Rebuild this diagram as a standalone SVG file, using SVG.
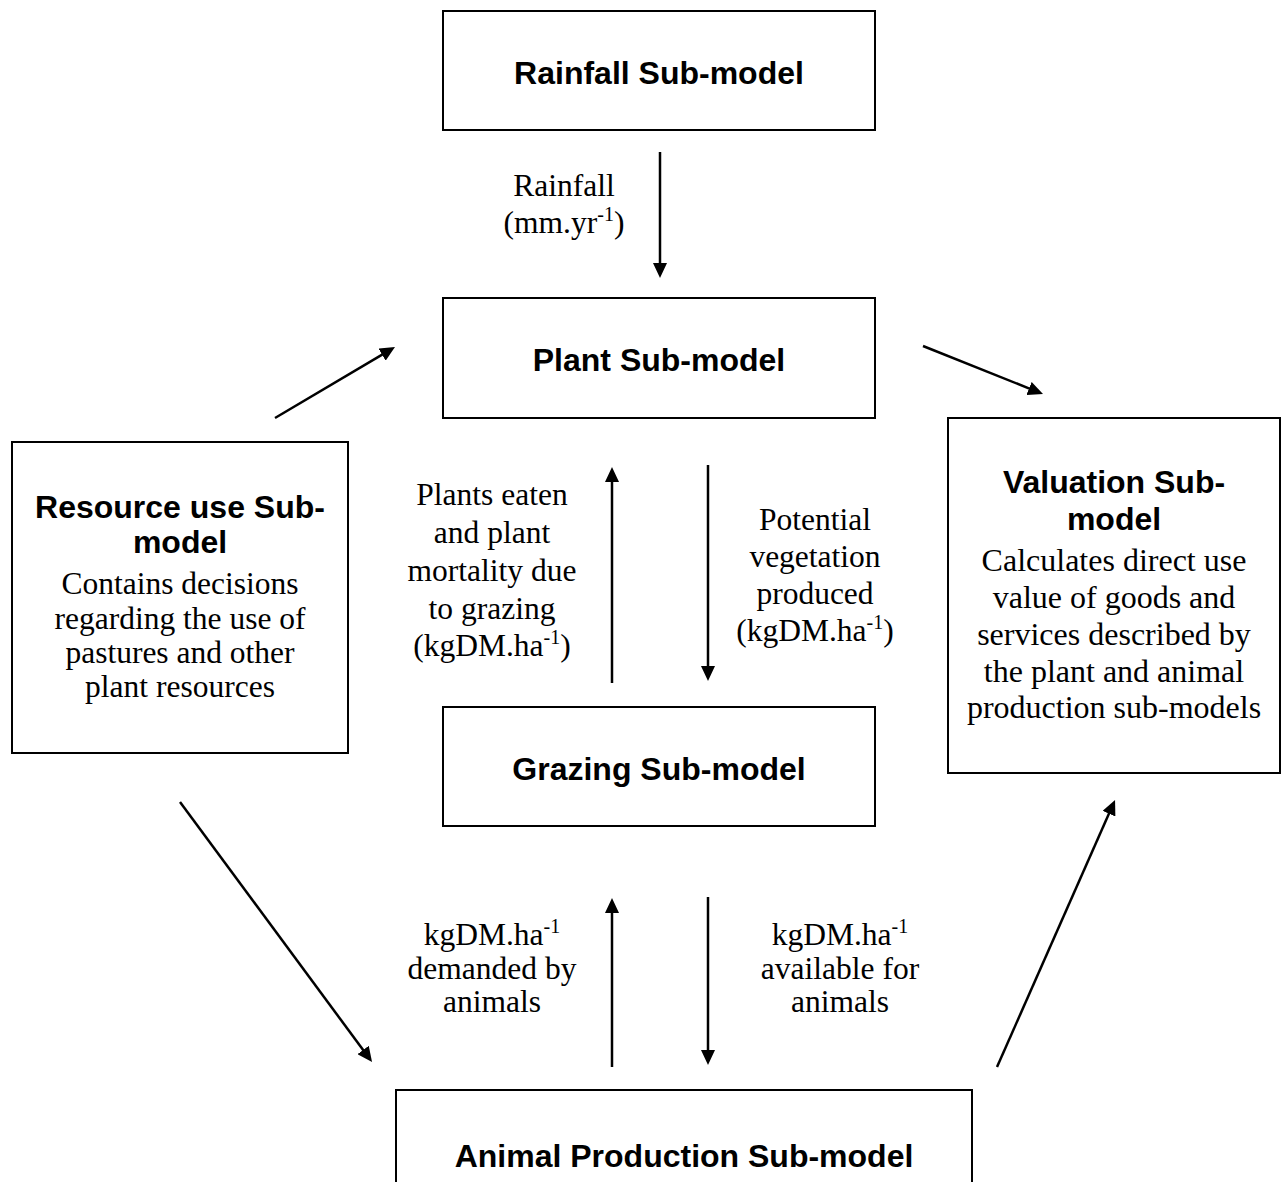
<svg xmlns="http://www.w3.org/2000/svg" width="1281" height="1182" viewBox="0 0 1281 1182">
<style>
.box{fill:#fff;stroke:#000;stroke-width:2}
.h{font-family:"Liberation Sans",Arial,sans-serif;font-weight:bold;font-size:32px;text-anchor:middle;fill:#000}
.t{font-family:"Liberation Serif","Times New Roman",serif;font-size:31.5px;text-anchor:middle;fill:#000}
.v{font-size:32px}
.sup{font-size:20px}
.c line{stroke:#000;stroke-width:2.5;marker-end:url(#ah)}
</style>
<defs>
<marker id="ah" markerUnits="userSpaceOnUse" markerWidth="15" markerHeight="14" refX="5" refY="7" orient="auto" viewBox="0 0 15 14">
<path d="M0,0 L15,7 L0,14 z" fill="#000"/>
</marker>
</defs>
<rect width="1281" height="1182" fill="#fff"/>
<g id="rainfall">
<rect class="box" x="443" y="11" width="432" height="119"/>
<text class="h" x="659" y="84">Rainfall Sub-model</text>
</g>
<g id="plant">
<rect class="box" x="443" y="298" width="432" height="120"/>
<text class="h" x="659" y="371">Plant Sub-model</text>
</g>
<g id="grazing">
<rect class="box" x="443" y="707" width="432" height="119"/>
<text class="h" x="659" y="780">Grazing Sub-model</text>
</g>
<g id="animal">
<rect class="box" x="396" y="1090" width="576" height="120"/>
<text class="h" x="684" y="1167">Animal Production Sub-model</text>
</g>
<g id="resource">
<rect class="box" x="12" y="442" width="336" height="311"/>
<text class="h" x="180" y="518">Resource use Sub-</text>
<text class="h" x="180" y="553">model</text>
<text class="t" x="180" y="594">Contains decisions</text>
<text class="t" x="180" y="629">regarding the use of</text>
<text class="t" x="180" y="663">pastures and other</text>
<text class="t" x="180" y="697">plant resources</text>
</g>
<g id="valuation">
<rect class="box" x="948" y="418" width="332" height="355"/>
<text class="h" x="1114" y="493">Valuation Sub-</text>
<text class="h" x="1114" y="530">model</text>
<text class="t v" x="1114" y="571">Calculates direct use</text>
<text class="t v" x="1114" y="608">value of goods and</text>
<text class="t v" x="1114" y="645">services described by</text>
<text class="t v" x="1114" y="682">the plant and animal</text>
<text class="t v" x="1114" y="718">production sub-models</text>
</g>
<g id="connectors" class="c">
<line x1="660" y1="152" x2="660" y2="268"/>
<line x1="275" y1="418" x2="386.4" y2="352.1"/>
<line x1="923" y1="346" x2="1033.7" y2="390.3"/>
<line x1="612" y1="683" x2="612" y2="477"/>
<line x1="708" y1="465" x2="708" y2="671"/>
<line x1="612" y1="1067" x2="612" y2="908"/>
<line x1="708" y1="897" x2="708" y2="1055"/>
<line x1="180" y1="802" x2="366.1" y2="1054"/>
<line x1="997" y1="1067" x2="1111" y2="809.1"/>
</g>
<g id="labels">
<text class="t" x="564" y="196">Rainfall</text>
<text class="t" x="564" y="233">(mm.yr<tspan class="sup" dy="-12">-1</tspan><tspan dy="12">)</tspan></text>
<text class="t" x="492" y="505">Plants eaten</text>
<text class="t" x="492" y="543">and plant</text>
<text class="t" x="492" y="581">mortality due</text>
<text class="t" x="492" y="619">to grazing</text>
<text class="t" x="492" y="656">(kgDM.ha<tspan class="sup" dy="-12">-1</tspan><tspan dy="12">)</tspan></text>
<text class="t" x="815" y="530">Potential</text>
<text class="t" x="815" y="567">vegetation</text>
<text class="t" x="815" y="604">produced</text>
<text class="t" x="815" y="641">(kgDM.ha<tspan class="sup" dy="-12">-1</tspan><tspan dy="12">)</tspan></text>
<text class="t" x="492" y="945">kgDM.ha<tspan class="sup" dy="-12">-1</tspan></text>
<text class="t" x="492" y="979">demanded by</text>
<text class="t" x="492" y="1012">animals</text>
<text class="t" x="840" y="945">kgDM.ha<tspan class="sup" dy="-12">-1</tspan></text>
<text class="t" x="840" y="979">available for</text>
<text class="t" x="840" y="1012">animals</text>
</g>
</svg>
